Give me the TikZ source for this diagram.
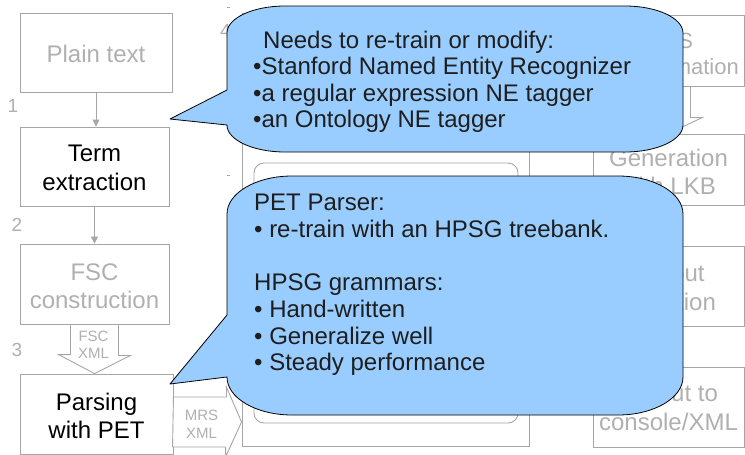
\documentclass[tikz,border=0pt]{standalone}
\usepackage{fontspec}
\setmainfont{Liberation Sans}
\usetikzlibrary{arrows.meta}
\definecolor{boxline}{HTML}{A6A6A6}
\definecolor{fadetext}{HTML}{B0B0B0}
\definecolor{bubblefill}{HTML}{99CCFF}
\definecolor{bubbletext}{HTML}{1E1E1E}
\newcommand\fsz[2]{\fontsize{#1}{#2}\selectfont}

\begin{document}
\begin{tikzpicture}[x=1pt,y=-1pt,
  stagebox/.style={draw=boxline, line width=0.9pt, rectangle, inner sep=0pt, fill=white},
  fadelabel/.style={text=fadetext, font=\fsz{24}{28}, anchor=base, inner sep=0pt},
  darklabel/.style={text=black, font=\fsz{24}{28}, anchor=base, inner sep=0pt},
  smalllabel/.style={text=fadetext, font=\fsz{15}{18}, anchor=base, inner sep=0pt},
  steplabel/.style={text=fadetext, font=\fsz{19}{22}, anchor=base, inner sep=0pt},
  flowarrow/.style={draw=boxline, line width=0.9pt, -{Triangle[width=7pt,length=7pt]}},
  blockarrow/.style={draw=boxline, line width=0.9pt, fill=white, line join=miter},
  bubble/.style={fill=bubblefill, draw=black, line width=0.8pt, line join=round},
  bubbleline/.style={text=bubbletext, font=\fsz{24}{28}, anchor=base west, inner sep=0pt}]

\useasboundingbox (0,0) rectangle (745,455);
\fill[white] (0,0) rectangle (745,455);

% left column: pipeline stages
\node[stagebox, minimum width=152pt, minimum height=79pt] (plain) at (96,52.5) {};
\node[stagebox, minimum width=149pt, minimum height=79pt] (term)  at (94.5,166.5) {};
\node[stagebox, minimum width=149pt, minimum height=80pt] (fsc)   at (94.5,284) {};
\node[stagebox, minimum width=153pt, minimum height=80pt] (pars)  at (96.5,414) {};

\node[fadelabel] (plainA) at (96,62) {Plain text};
\node[darklabel] (termA) at (94.5,161.5) {Term};
\node[darklabel] (termB) at (94.5,190.5) {extraction};
\node[fadelabel] (fscA) at (94.5,280.5) {FSC};
\node[fadelabel] (fscB) at (94.5,308.5) {construction};
\node[darklabel] (parsA) at (96.5,410) {Parsing};
\node[darklabel] (parsB) at (96.5,438.5) {with PET};

% step numbers
\node[steplabel] (n1) at (13,112) {1};
\node[steplabel] (n2) at (17,231) {2};
\node[steplabel] (n3) at (17,356) {3};
\node[steplabel] (n4) at (225.5,37) {4};

\draw[flowarrow] (plain.south) -- (plain.south |- term.north);
\draw[flowarrow] (term.south) -- (term.south |- fsc.north);

% block arrow carrying the FSC XML
\draw[blockarrow] ([xshift=-24pt]fsc.south) -- ([xshift=24pt]fsc.south) -- ++(0,31) -- ++(12,0)
  -- (fsc.south |- pars.north) -- ++(-36,-19) -- ++(12,0) -- cycle;
\node[smalllabel] (fscxA) at (93.5,341.7) {FSC};
\node[smalllabel] (fscxB) at (93.5,358.3) {XML};

% middle block: outer frame and inner rounded panel
\node[stagebox, minimum width=287pt, minimum height=433pt] (frame) at (385.5,229.5) {};
\node[stagebox, rounded corners=10pt, minimum width=264pt, minimum height=260pt] (panel) at (386,293) {};
\draw[boxline, line width=0.6pt] (226.5,7) -- (229.5,7);
\draw[boxline, line width=0.6pt] (226.5,175) -- (229.5,175);

% block arrow carrying the MRS XML
\coordinate (mrsbase) at ([yshift=-8pt]pars.east);
\draw[blockarrow] (mrsbase) ++(0,-25) -- ++(53,0) -- ++(0,-10) -- (frame.west |- mrsbase)
  -- ++(-16,35) -- ++(0,-10) -- ++(-53,0) -- cycle;
\node[smalllabel] (mrsxA) at (201.5,420.7) {MRS};
\node[smalllabel] (mrsxB) at (201.5,438.3) {XML};

% right column: generation side
\node[stagebox, minimum width=151pt, minimum height=71pt] (mrst) at (668.5,50.5) {};
\node[stagebox, minimum width=151pt, minimum height=71pt] (gen)  at (668.5,169.5) {};
\node[stagebox, minimum width=151pt, minimum height=80pt] (osel) at (668.5,286) {};
\node[stagebox, minimum width=151pt, minimum height=80pt] (ocon) at (668.5,407) {};

\node[fadelabel, font=\fsz{22}{26}] (mrstA) at (668.5,48.3) {MRS};
\node[fadelabel, font=\fsz{22}{26}] (mrstB) at (668.5,74) {transformation};
\node[fadelabel] (genA) at (668.5,166.7) {Generation};
\node[fadelabel] (genB) at (668.5,194.3) {with LKB};
\node[fadelabel] (oselA) at (668.5,281.7) {Output};
\node[fadelabel] (oselB) at (668.5,310) {selection};
\node[fadelabel] (oconA) at (668.5,401.7) {Output to};
\node[fadelabel] (oconB) at (668.5,430) {console/XML};

\draw[blockarrow] ([xshift=-22pt]mrst.south) -- ([xshift=22pt]mrst.south) -- ++(0,31) -- ++(12,0)
  -- (gen.north) -- ++(-34,-17) -- ++(12,0) -- cycle;

% callout on term extraction
\draw[bubble] (227,33) arc[start angle=180,end angle=90,x radius=58pt,y radius=27pt]
  -- (625,6) arc[start angle=90,end angle=0,x radius=58pt,y radius=27pt]
  -- (683,125) arc[start angle=0,end angle=-90,x radius=58pt,y radius=27pt]
  -- (285,152) arc[start angle=270,end angle=180,x radius=58pt,y radius=27pt]
  -- (170,119) -- (227,90) -- cycle;
\node[bubbleline] (b1a) at (263,48.3) {Needs to re-train or modify:};
\node[bubbleline] (b1b) at (253,74.5) {•Stanford Named Entity Recognizer};
\node[bubbleline] (b1c) at (253,101.1) {•a regular expression NE tagger};
\node[bubbleline] (b1d) at (253,127.7) {•an Ontology NE tagger};

% callout on parsing
\draw[bubble] (227,214) arc[start angle=180,end angle=90,x radius=65pt,y radius=38pt]
  -- (618,176) arc[start angle=90,end angle=0,x radius=65pt,y radius=38pt]
  -- (683,377) arc[start angle=0,end angle=-90,x radius=65pt,y radius=38pt]
  -- (292,415) arc[start angle=270,end angle=180,x radius=65pt,y radius=38pt]
  -- (170,384) -- (227,315) -- cycle;
\node[bubbleline] (b2a) at (254,210.7) {PET Parser:};
\node[bubbleline] (b2b) at (254,237.3) {• re-train with an HPSG treebank.};
\node[bubbleline] (b2c) at (254,290.7) {HPSG grammars:};
\node[bubbleline] (b2d) at (254,317.4) {• Hand-written};
\node[bubbleline] (b2e) at (254,344) {• Generalize well};
\node[bubbleline] (b2f) at (254,370.7) {• Steady performance};
\end{tikzpicture}
\end{document}
